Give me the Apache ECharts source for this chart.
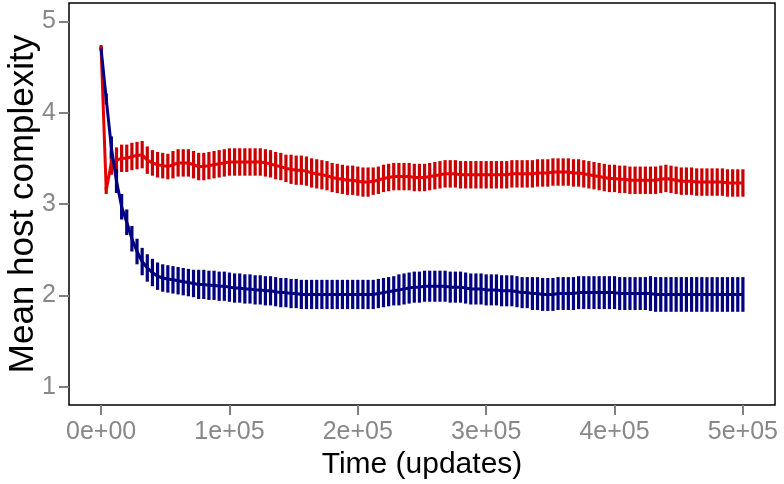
<!DOCTYPE html>
<html>
<head>
<meta charset="utf-8">
<script src="https://cdn.jsdelivr.net/npm/echarts@6.0.0/dist/echarts.min.js"></script>
<style>
body {
  margin: 0;
  background: #fff;
}
#chart {
  width: 784px;
  height: 484px;
}
</style>
</head>
<body>
<div id="chart"></div>
<script>
// samples every 4000 updates, 0 .. 500000
const step = 4000;
const nPoints = 126;

// mean complexity, red run
const redMean = [
  4.72, 3.15, 3.45, 3.48, 3.50, 3.50, 3.52, 3.53, 3.54, 3.48,
  3.45, 3.43, 3.42, 3.41, 3.43, 3.45, 3.45, 3.45, 3.43, 3.41,
  3.41, 3.42, 3.43, 3.44, 3.45, 3.46, 3.46, 3.46, 3.46, 3.46,
  3.46, 3.46, 3.45, 3.44, 3.42, 3.41, 3.39, 3.38, 3.37, 3.37,
  3.36, 3.34, 3.33, 3.32, 3.31, 3.29, 3.28, 3.27, 3.26, 3.26,
  3.25, 3.24, 3.24, 3.25, 3.26, 3.28, 3.29, 3.30, 3.30, 3.30,
  3.30, 3.29, 3.29, 3.29, 3.30, 3.31, 3.32, 3.33, 3.33, 3.33,
  3.32, 3.32, 3.32, 3.32, 3.32, 3.32, 3.32, 3.32, 3.32, 3.32,
  3.33, 3.33, 3.33, 3.33, 3.33, 3.34, 3.34, 3.34, 3.35, 3.35,
  3.35, 3.35, 3.34, 3.34, 3.33, 3.32, 3.31, 3.30, 3.29, 3.28,
  3.28, 3.27, 3.27, 3.26, 3.26, 3.26, 3.26, 3.26, 3.26, 3.27,
  3.28, 3.27, 3.26, 3.25, 3.25, 3.25, 3.24, 3.24, 3.24, 3.24,
  3.24, 3.24, 3.23, 3.23, 3.23, 3.23
];
// half width of the red error bars
const redErr = [
  0.02, 0.04, 0.13, 0.14, 0.15, 0.15, 0.15, 0.15, 0.15, 0.15,
  0.14, 0.14, 0.14, 0.14, 0.15, 0.15, 0.15, 0.15, 0.15, 0.15,
  0.15, 0.15, 0.15, 0.15, 0.15, 0.15, 0.15, 0.15, 0.15, 0.15,
  0.15, 0.15, 0.15, 0.15, 0.15, 0.15, 0.15, 0.16, 0.16, 0.16,
  0.16, 0.16, 0.16, 0.16, 0.16, 0.16, 0.16, 0.16, 0.16, 0.16,
  0.16, 0.16, 0.16, 0.15, 0.15, 0.15, 0.15, 0.15, 0.15, 0.15,
  0.15, 0.15, 0.15, 0.15, 0.15, 0.15, 0.15, 0.15, 0.15, 0.15,
  0.15, 0.15, 0.15, 0.15, 0.15, 0.15, 0.15, 0.15, 0.15, 0.15,
  0.15, 0.15, 0.15, 0.15, 0.15, 0.15, 0.15, 0.15, 0.15, 0.15,
  0.15, 0.15, 0.15, 0.15, 0.15, 0.15, 0.15, 0.15, 0.15, 0.15,
  0.15, 0.15, 0.15, 0.15, 0.15, 0.15, 0.15, 0.15, 0.15, 0.15,
  0.15, 0.15, 0.15, 0.15, 0.15, 0.15, 0.15, 0.15, 0.15, 0.15,
  0.15, 0.15, 0.15, 0.15, 0.15, 0.15
];

// mean complexity, blue run
const blueMean = [
  4.70, 4.15, 3.62, 3.25, 2.97, 2.80, 2.62, 2.48, 2.37, 2.30,
  2.25, 2.21, 2.19, 2.18, 2.17, 2.16, 2.15, 2.14, 2.13, 2.12,
  2.12, 2.11, 2.11, 2.10, 2.10, 2.09, 2.08, 2.08, 2.07, 2.07,
  2.06, 2.06, 2.05, 2.05, 2.04, 2.03, 2.03, 2.02, 2.02, 2.01,
  2.01, 2.01, 2.01, 2.01, 2.01, 2.01, 2.01, 2.01, 2.01, 2.01,
  2.01, 2.01, 2.01, 2.01, 2.02, 2.03, 2.04, 2.05, 2.06, 2.07,
  2.08, 2.09, 2.09, 2.10, 2.10, 2.10, 2.10, 2.10, 2.09, 2.09,
  2.09, 2.08, 2.07, 2.07, 2.07, 2.06, 2.06, 2.06, 2.05, 2.05,
  2.05, 2.04, 2.03, 2.03, 2.02, 2.02, 2.01, 2.01, 2.01, 2.02,
  2.02, 2.02, 2.02, 2.03, 2.03, 2.03, 2.03, 2.03, 2.03, 2.03,
  2.03, 2.02, 2.02, 2.02, 2.02, 2.02, 2.02, 2.02, 2.01, 2.01,
  2.01, 2.01, 2.01, 2.01, 2.01, 2.01, 2.01, 2.01, 2.01, 2.01,
  2.01, 2.01, 2.01, 2.01, 2.01, 2.01
];
// half width of the blue error bars
const blueErr = [
  0.02, 0.06, 0.12, 0.13, 0.14, 0.14, 0.14, 0.14, 0.15, 0.15,
  0.15, 0.15, 0.15, 0.15, 0.15, 0.15, 0.15, 0.15, 0.15, 0.16,
  0.16, 0.16, 0.16, 0.16, 0.16, 0.16, 0.16, 0.16, 0.16, 0.16,
  0.16, 0.16, 0.16, 0.16, 0.16, 0.16, 0.16, 0.16, 0.16, 0.16,
  0.16, 0.16, 0.16, 0.16, 0.16, 0.16, 0.16, 0.16, 0.16, 0.16,
  0.16, 0.16, 0.16, 0.16, 0.16, 0.16, 0.16, 0.16, 0.17, 0.17,
  0.17, 0.17, 0.17, 0.17, 0.17, 0.17, 0.17, 0.17, 0.17, 0.17,
  0.17, 0.17, 0.17, 0.17, 0.17, 0.17, 0.17, 0.17, 0.17, 0.17,
  0.17, 0.17, 0.17, 0.17, 0.18, 0.18, 0.18, 0.18, 0.18, 0.18,
  0.18, 0.18, 0.18, 0.18, 0.18, 0.18, 0.18, 0.18, 0.18, 0.18,
  0.18, 0.18, 0.18, 0.18, 0.18, 0.18, 0.18, 0.19, 0.19, 0.19,
  0.19, 0.19, 0.19, 0.19, 0.19, 0.19, 0.19, 0.19, 0.19, 0.19,
  0.19, 0.19, 0.19, 0.19, 0.19, 0.19
];

const xTickValues = [0, 100000, 200000, 300000, 400000, 500000];
const xTickLabels = ["0e+00", "1e+05", "2e+05", "3e+05", "4e+05", "5e+05"];
const yTickValues = [1, 2, 3, 4, 5];

const times = [];
for (let i = 0; i < nPoints; i++) times.push(i * step);

const redLine = "#e40000";
const redBar = "#c80000";
const blueLine = "#000080";
const blueBar = "#000080";

function barData(mean, err) {
  return times.map((t, i) => [t, mean[i] - err[i], mean[i] + err[i]]);
}

function errorBars(name, data, color) {
  return {
    name: name,
    type: "custom",
    data: data,
    z: 2,
    renderItem: function (params, api) {
      const lo = api.coord([api.value(0), api.value(1)]);
      const hi = api.coord([api.value(0), api.value(2)]);
      return {
        type: "line",
        shape: { x1: lo[0], y1: lo[1], x2: hi[0], y2: hi[1] },
        style: { stroke: color, lineWidth: 3.2 },
      };
    },
  };
}

function meanLine(name, mean, color) {
  return {
    name: name,
    type: "line",
    data: times.map((t, i) => [t, mean[i]]),
    showSymbol: false,
    z: 3,
    lineStyle: { color: color, width: 3 },
  };
}

const font = "'Liberation Sans', Arial, sans-serif";

const myChart = echarts.init(document.getElementById("chart"));
myChart.setOption({
  animation: false,
  grid: {
    left: 69,
    right: 9,
    top: 3,
    bottom: 79,
    outerBoundsMode: "none",
    containLabel: false,
    show: true,
    borderColor: "#000",
    borderWidth: 1.5,
    backgroundColor: "#fff",
  },
  xAxis: {
    type: "value",
    min: -25000,
    max: 525000,
    name: "Time (updates)",
    nameLocation: "middle",
    nameGap: 42,
    nameTextStyle: { color: "#000", fontSize: 30, fontFamily: font },
    axisLine: { show: false, onZero: false },
    axisTick: {
      customValues: xTickValues,
      length: 10,
      lineStyle: { color: "#808080", width: 2 },
    },
    axisLabel: {
      customValues: xTickValues,
      margin: 15,
      color: "#888",
      fontSize: 25,
      fontFamily: font,
      formatter: function (v) {
        return xTickLabels[xTickValues.indexOf(v)];
      },
    },
    splitLine: { show: false },
  },
  yAxis: {
    type: "value",
    min: 0.8,
    max: 5.2,
    name: "Mean host complexity",
    nameLocation: "middle",
    nameGap: 28,
    nameMoveOverlap: false,
    nameTextStyle: { color: "#000", fontSize: 35, fontFamily: font },
    axisLine: { show: false, onZero: false },
    axisTick: {
      customValues: yTickValues,
      length: 10,
      lineStyle: { color: "#808080", width: 2 },
    },
    axisLabel: {
      customValues: yTickValues,
      margin: 13,
      color: "#888",
      fontSize: 25,
      fontFamily: font,
    },
    splitLine: { show: false },
  },
  series: [
    errorBars("red bars", barData(redMean, redErr), redBar),
    errorBars("blue bars", barData(blueMean, blueErr), blueBar),
    meanLine("red", redMean, redLine),
    meanLine("blue", blueMean, blueLine),
  ],
});
</script>
</body>
</html>
